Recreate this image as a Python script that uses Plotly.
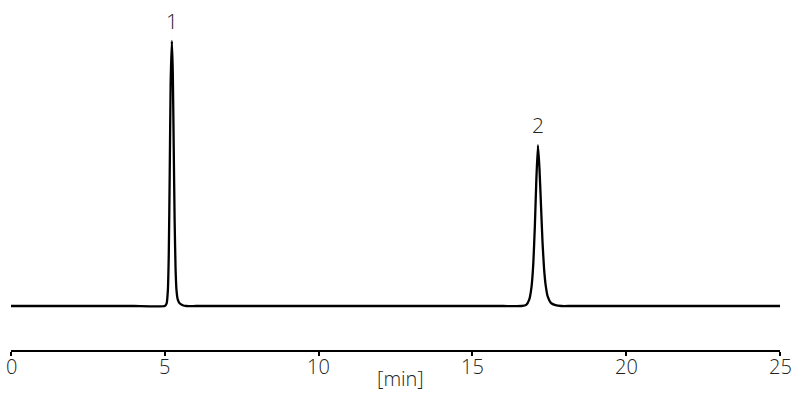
import plotly.graph_objects as go

# Chromatogram (time in min, signal in arbitrary units)
time_min = [0.0, 1.6, 2.9, 4.0, 5.0, 5.06, 5.10, 5.13, 5.16, 5.19, 5.23, 5.26, 5.29, 5.32, 5.35, 5.38,
            5.42, 5.48, 5.58, 5.70, 6.0, 8.0, 10.0, 12.0, 14.0, 16.0,
            16.60, 16.75, 16.85, 16.92, 16.98, 17.03, 17.08, 17.13, 17.18, 17.23, 17.28, 17.33,
            17.38, 17.45, 17.55, 17.70, 17.90, 18.2, 20.0, 22.0, 25.0]
signal = [0.0, 0.0, 0.0, 0.0, 0.0, 1.0, 6.0, 20.0, 50.0, 84.0, 100.0, 88.0, 60.0, 32.0, 14.0, 6.0,
          2.5, 1.0, 0.3, 0.0, 0.0, 0.0, 0.0, 0.0, 0.0, 0.0,
          0.0, 0.4, 2.5, 7.0, 16.0, 30.0, 48.0, 60.7, 52.0, 38.0, 24.0, 14.0,
          8.0, 3.5, 1.2, 0.3, 0.0, 0.0, 0.0, 0.0, 0.0]

peak_labels = ["1", "2"]
peak_times = [5.23, 17.13]
peak_heights = [100.0, 60.7]

x_ticks = [0, 5, 10, 15, 20, 25]
x_title = "[min]"

FONT = "Open Sans"
TXT = "#222222"

fig = go.Figure()
fig.add_trace(go.Scatter(x=time_min, y=signal, mode="lines",
                         line=dict(color="black", width=2.3, shape="spline", smoothing=0.4),
                         hoverinfo="skip", showlegend=False))

for lab, t, h in zip(peak_labels, peak_times, peak_heights):
    fig.add_annotation(x=t, y=h, text=lab, showarrow=False, yanchor="middle", yshift=20,
                       font=dict(family=FONT, size=21, color=TXT, weight=300))

# tick labels placed just under the axis line
for v in x_ticks:
    fig.add_annotation(x=v, xref="x", yref="paper", y=0, text=str(v), showarrow=False,
                       yanchor="middle", yshift=-16,
                       font=dict(family=FONT, size=20, color=TXT, weight=300))

fig.add_annotation(xref="paper", yref="paper", x=0.507, y=0, yanchor="middle", yshift=-28,
                   text=x_title, showarrow=False,
                   font=dict(family=FONT, size=20, color=TXT, weight=300))

fig.update_layout(
    width=806, height=404,
    margin=dict(l=11, r=26, t=10, b=54, autoexpand=False),
    paper_bgcolor="white", plot_bgcolor="white",
    xaxis=dict(range=[0, 25], tickvals=x_ticks, showticklabels=False,
               automargin=False,
               showgrid=False, zeroline=False, showline=True, linecolor="black", linewidth=2,
               ticks="outside", ticklen=4, tickwidth=2, tickcolor="black"),
    yaxis=dict(range=[-16.6, 111.7], visible=False),
)

fig.write_html("out.html", config={"displayModeBar": False},
               post_script="document.body.style.margin='0';document.body.style.overflow='hidden';")
